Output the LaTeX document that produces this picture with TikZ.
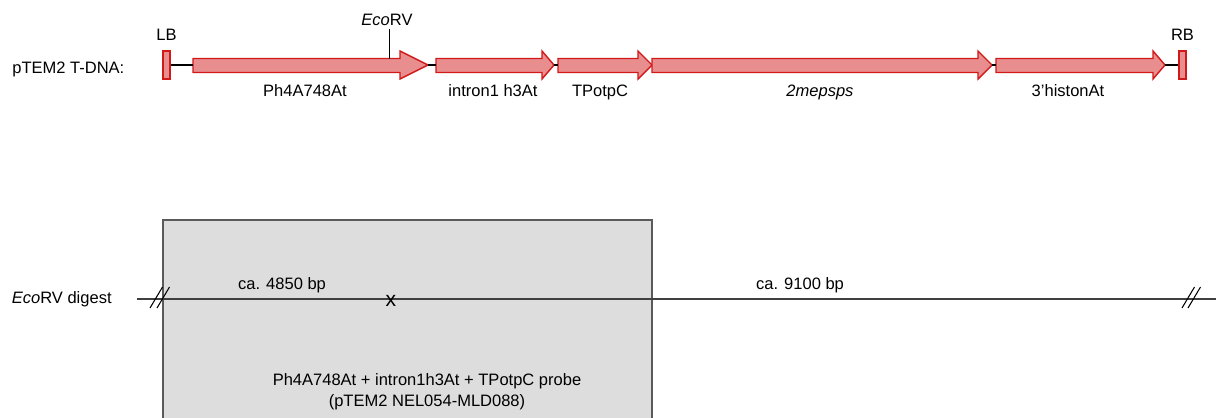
\documentclass[tikz,border=0pt]{standalone}
\usepackage{fontspec}
\setmainfont{Liberation Sans}
\usepackage{xcolor}
\usetikzlibrary{positioning}

\definecolor{genefill}{RGB}{232,142,142}
\definecolor{geneline}{RGB}{210,25,25}
\definecolor{probefill}{RGB}{221,221,221}
\definecolor{probeline}{RGB}{90,90,90}

\begin{document}
\begin{tikzpicture}[
    x=0.02cm, y=-0.02cm,
    gene/.style={draw=geneline, fill=genefill, line width=0.8pt},
    border/.style={draw=geneline, fill=genefill, line width=0.8pt, minimum width=0.14cm, minimum height=0.56cm, inner sep=0pt},
    dna/.style={line width=1.3pt},
    lbl/.style={font=\fontsize{9.4}{11.9}\selectfont, inner sep=0pt, anchor=base},
    probe/.style={draw=probeline, fill=probefill, line width=0.8pt},
    digest/.style={draw=black!75, line width=0.7pt},
    brk/.style={draw=black, line width=0.6pt}
]
    \clip (0,0) rectangle (1218,417);
    \useasboundingbox (0,0) rectangle (1218,417);

    % T-DNA map
    \node[lbl, anchor=base west] (tdna) at (12,73) {pTEM2 T-DNA:};
    \node[border] (lb) at (166.5,65) {};
    \node[border] (rb) at (1182.5,65) {};
    \node[lbl, above=0.18cm of lb] (lbtxt) {LB};
    \node[lbl, above=0.18cm of rb] (rbtxt) {RB};

    \foreach \s/\h/\t/\n in {193/400/428/ph, 436/542/554/intr, 558/638/652/tp, 652/978/992/mep, 996/1153/1165/his} {
        \draw[gene] (\s,58.5) -- (\h,58.5) -- (\h,51) -- (\t,65) -- (\h,79) -- (\h,72.5) -- (\s,72.5) -- cycle;
        \coordinate (\n-s) at (\s,65);
        \coordinate (\n-t) at (\t,65);
    }

    \draw[dna] (lb.east) -- (ph-s);
    \draw[dna] (ph-t) -- (intr-s);
    \draw[dna] (intr-t) -- (tp-s);
    \draw[dna] (mep-t) -- (his-s);
    \draw[dna] (his-t) -- (rb.west);

    \node[lbl] (phtxt) at (305,96) {Ph4A748At};
    \node[lbl] (intrtxt) at (493,96) {intron1 h3At};
    \node[lbl] (tptxt) at (600,96) {TPotpC};
    \node[lbl] (meptxt) at (820,96) {\itshape 2mepsps};
    \node[lbl] (histxt) at (1068,96) {3'histonAt};

    \node[lbl] (eco) at (387,25) {\itshape Eco\upshape RV};
    \coordinate (cut) at (389,58.5);
    \coordinate (cuttop) at (389,29);
    \draw[line width=0.5pt] (cut) -- (cuttop);

    % EcoRV digest
    \draw[probe] (163,220) rectangle (652,430);
    \node[lbl, align=center, anchor=north] (probetxt) at (427,373) {Ph4A748At + intron1h3At + TPotpC probe\\(pTEM2 NEL054-MLD088)};

    \node[lbl, anchor=base east] (dig) at (112,303) {\itshape Eco\upshape RV digest};
    \coordinate (dl) at (137,299);
    \coordinate (dr) at (1216,299);
    \draw[digest] (dl) -- (dr);
    \foreach \bx in {150,157,1182,1188}
        \draw[brk] (\bx,308) -- (\bx+12.5,287);

    \node[lbl] (frag1) at (282,289) {ca. 4850 bp};
    \node[lbl] (frag2) at (800,289) {ca. 9100 bp};
    \node[lbl, font=\fontsize{12}{14}\selectfont] (site) at (391,306) {x};
\end{tikzpicture}
\end{document}
